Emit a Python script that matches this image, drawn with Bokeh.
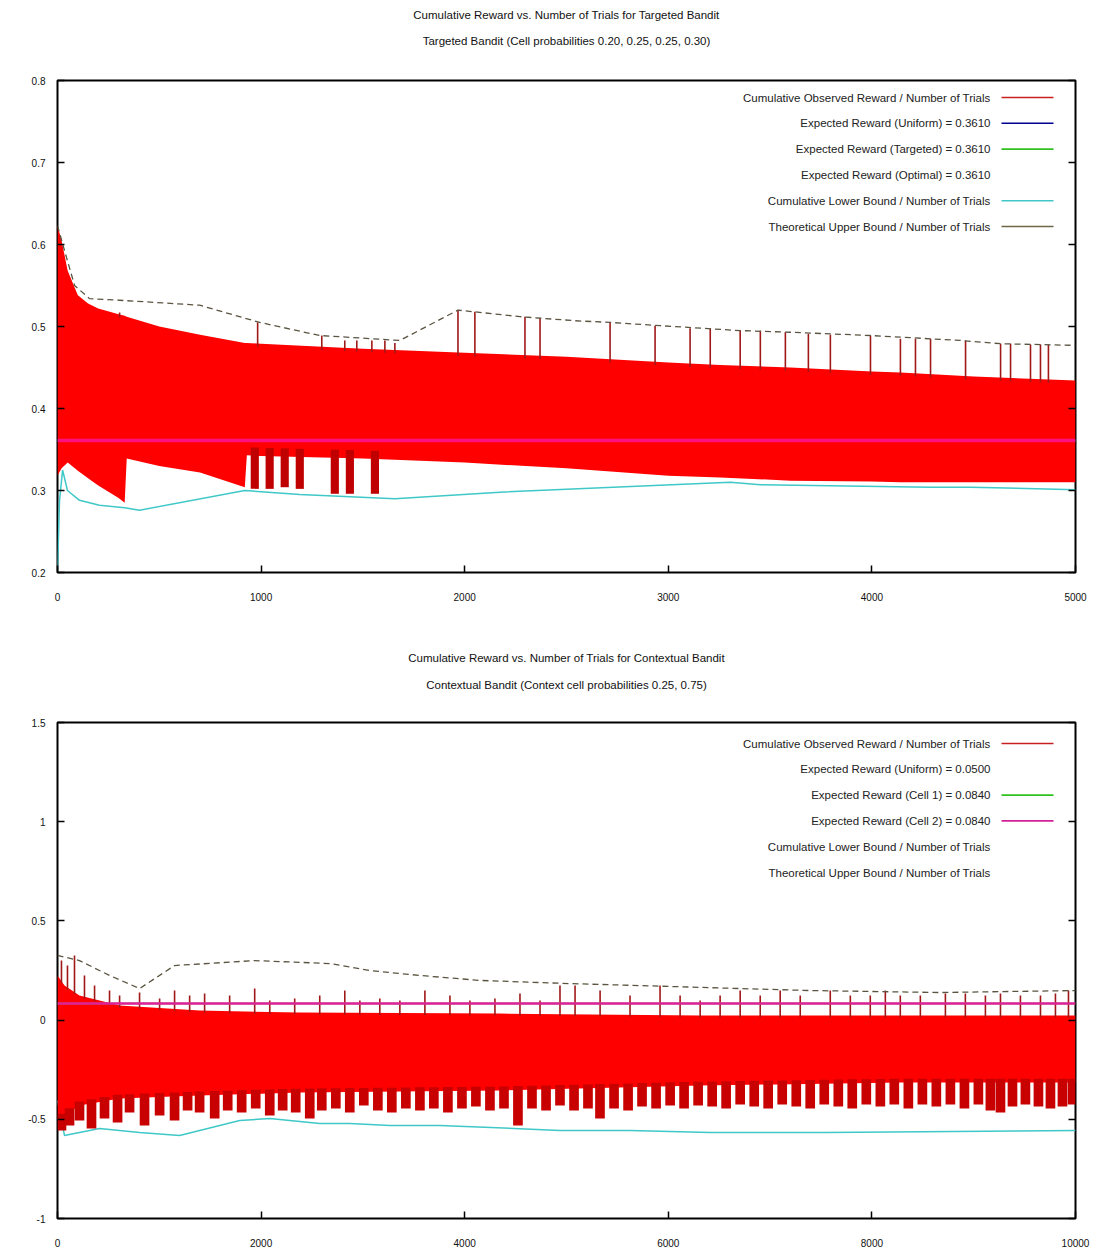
import numpy as np
from bokeh.plotting import figure
from bokeh.layouts import column
from bokeh.models import Range1d, LinearAxis, FixedTicker, Label, Title
from bokeh.embed import file_html
from bokeh.resources import INLINE

FONT = "Liberation Sans"

# ---------------- top chart data ----------------
top_title1 = "Cumulative Reward vs. Number of Trials for Targeted Bandit"
top_title2 = "Targeted Bandit (Cell probabilities 0.20, 0.25, 0.25, 0.30)"
top_x_ticks = [0, 1000, 2000, 3000, 4000, 5000]
top_y_ticks = [0.2, 0.3, 0.4, 0.5, 0.6, 0.7, 0.8]
top_y_labels = ["0.2", "0.3", "0.4", "0.5", "0.6", "0.7", "0.8"]

top_env_x = [0, 20, 50, 100, 150, 200, 300, 330, 340, 500, 700, 920, 930, 1000,
             1500, 2000, 2500, 3000, 3255, 3600, 4000, 4140, 4500, 5000]
top_env_upper = [0.623, 0.605, 0.568, 0.538, 0.528, 0.522, 0.515, 0.513, 0.512, 0.500,
                 0.490, 0.480, 0.480, 0.479, 0.473, 0.468, 0.463, 0.456, 0.453, 0.450,
                 0.445, 0.444, 0.439, 0.434]
top_env_lower = [0.318, 0.327, 0.334, 0.324, 0.315, 0.306, 0.291, 0.285, 0.339, 0.330,
                 0.322, 0.304, 0.343, 0.342, 0.339, 0.334, 0.327, 0.318, 0.316, 0.312,
                 0.311, 0.310, 0.310, 0.310]
top_spike_x = [305, 983, 1298, 1411, 1470, 1544, 1608, 1657, 1967, 2050,
               2296, 2370, 2714, 2935, 3107, 3206, 3353, 3452, 3575, 3688,
               3796, 3993, 4140, 4214, 4288, 4460, 4632, 4681, 4779, 4828, 4867]
top_spike_top = [0.517, 0.505, 0.489, 0.483, 0.483, 0.483, 0.483, 0.480, 0.520, 0.518,
                 0.512, 0.510, 0.505, 0.501, 0.498, 0.498, 0.495, 0.495, 0.493, 0.491,
                 0.490, 0.489, 0.485, 0.485, 0.485, 0.483, 0.479, 0.479, 0.478, 0.478, 0.478]
top_dip_x = [969, 1042, 1116, 1190, 1362, 1436, 1559]
top_dip_bottom = [0.302, 0.302, 0.304, 0.302, 0.296, 0.296, 0.296]
top_upper_x = [0, 34, 84, 157, 305, 698, 993, 1288, 1682, 1967, 2272, 2543, 2714,
               2960, 3353, 3599, 3993, 4435, 4632, 5000]
top_upper_v = [0.623, 0.593, 0.550, 0.534, 0.532, 0.526, 0.505, 0.489, 0.483, 0.520,
               0.512, 0.507, 0.505, 0.501, 0.495, 0.493, 0.489, 0.483, 0.479, 0.477]
top_lower_x = [0, 10, 25, 49, 108, 206, 330, 403, 920, 1190, 1657, 2173, 3304, 3452,
               4288, 4484, 5000]
top_lower_v = [0.202, 0.288, 0.325, 0.300, 0.288, 0.282, 0.279, 0.276, 0.300, 0.295,
               0.290, 0.298, 0.310, 0.307, 0.304, 0.304, 0.301]
top_expected = 0.361
top_legend = [
    ("Cumulative Observed Reward / Number of Trials", "#c82020"),
    ("Expected Reward (Uniform) = 0.3610", "#000090"),
    ("Expected Reward (Targeted) = 0.3610", "#30c020"),
    ("Expected Reward (Optimal) = 0.3610", None),
    ("Cumulative Lower Bound / Number of Trials", "#40c8c8"),
    ("Theoretical Upper Bound / Number of Trials", "#6e6848"),
]

# ---------------- bottom chart data ----------------
bot_title1 = "Cumulative Reward vs. Number of Trials for Contextual Bandit"
bot_title2 = "Contextual Bandit (Context cell probabilities 0.25, 0.75)"
bot_x_ticks = [0, 2000, 4000, 6000, 8000, 10000]
bot_y_ticks = [-1, -0.5, 0, 0.5, 1, 1.5]
bot_y_labels = ["-1", "-0.5", "0", "0.5", "1", "1.5"]

bot_env_x = [0, 69, 216, 610, 1396, 2380, 4346, 6313, 8279, 10000]
bot_env_upper = [0.225, 0.174, 0.124, 0.074, 0.048, 0.038, 0.033, 0.023, 0.023, 0.023]
bot_env_lower = [-0.506, -0.481, -0.430, -0.395, -0.380, -0.365, -0.355, -0.330, -0.315, -0.315]
bot_spike_x = [39, 98, 167, 265, 364, 511, 610, 806, 1003, 1150,
               1298, 1445, 1691, 1937, 2085, 2330, 2576, 2822, 2970, 3166,
               3363, 3609, 3855, 4051, 4297, 4543, 4740, 4936, 5084, 5330,
               5624, 5919, 6116, 6313, 6509, 6706, 6903, 7099, 7296, 7591,
               7788, 7984, 8132, 8279, 8476, 8722, 8918, 9115, 9263, 9459,
               9656, 9803, 9931]
bot_spike_top = [0.300, 0.275, 0.326, 0.225, 0.174, 0.149, 0.124, 0.139, 0.109, 0.149,
                 0.124, 0.134, 0.124, 0.159, 0.099, 0.109, 0.124, 0.149, 0.099, 0.109,
                 0.099, 0.149, 0.124, 0.099, 0.109, 0.134, 0.099, 0.174, 0.174, 0.149,
                 0.124, 0.174, 0.124, 0.099, 0.124, 0.149, 0.124, 0.149, 0.124, 0.149,
                 0.124, 0.124, 0.149, 0.124, 0.124, 0.134, 0.134, 0.124, 0.134, 0.124,
                 0.124, 0.134, 0.149]
bot_dip_x = [39, 118, 216, 334, 462, 590, 708, 855, 1003, 1150,
             1278, 1396, 1544, 1672, 1809, 1947, 2085, 2212, 2340, 2478,
             2596, 2734, 2871, 3009, 3147, 3284, 3422, 3560, 3697, 3835,
             3973, 4110, 4248, 4386, 4523, 4661, 4799, 4936, 5074, 5211,
             5329, 5467, 5605, 5742, 5880, 6018, 6155, 6293, 6431, 6568,
             6706, 6844, 6981, 7119, 7257, 7394, 7532, 7670, 7807, 7945,
             8083, 8220, 8358, 8496, 8633, 8771, 8909, 9046, 9164, 9263,
             9381, 9508, 9636, 9754, 9872, 9971]
bot_dip_bottom = [-0.556, -0.531, -0.506, -0.546, -0.496, -0.516, -0.466, -0.531, -0.481, -0.506,
                  -0.456, -0.466, -0.496, -0.456, -0.466, -0.446, -0.481, -0.456, -0.466, -0.496,
                  -0.456, -0.446, -0.466, -0.430, -0.456, -0.466, -0.446, -0.456, -0.446, -0.466,
                  -0.446, -0.435, -0.456, -0.446, -0.531, -0.446, -0.456, -0.430, -0.456, -0.446,
                  -0.496, -0.446, -0.456, -0.435, -0.446, -0.430, -0.446, -0.430, -0.435, -0.446,
                  -0.425, -0.435, -0.446, -0.425, -0.435, -0.446, -0.425, -0.435, -0.446, -0.425,
                  -0.435, -0.425, -0.446, -0.425, -0.435, -0.425, -0.446, -0.425, -0.456, -0.466,
                  -0.435, -0.425, -0.435, -0.446, -0.435, -0.425]
bot_upper_x = [0, 216, 511, 806, 1150, 1937, 2675, 3068, 3559, 4149, 5034, 5722, 6706,
               7394, 8673, 10000]
bot_upper_v = [0.326, 0.300, 0.225, 0.159, 0.275, 0.300, 0.285, 0.250, 0.225, 0.200,
               0.184, 0.174, 0.159, 0.149, 0.139, 0.149]
bot_lower_x = [0, 69, 413, 806, 1200, 1790, 2085, 2576, 2871, 3265, 3756, 4936, 5624,
               6411, 7542, 10000]
bot_lower_v = [-0.405, -0.582, -0.546, -0.567, -0.582, -0.506, -0.496, -0.521, -0.521,
               -0.531, -0.531, -0.556, -0.556, -0.567, -0.567, -0.556]
bot_expected = 0.084
bot_legend = [
    ("Cumulative Observed Reward / Number of Trials", "#c82020"),
    ("Expected Reward (Uniform) = 0.0500", None),
    ("Expected Reward (Cell 1) = 0.0840", "#30c020"),
    ("Expected Reward (Cell 2) = 0.0840", "#d0209a"),
    ("Cumulative Lower Bound / Number of Trials", None),
    ("Theoretical Upper Bound / Number of Trials", None),
]

W = 1092
FW = 1018  # frame width in px


def make_fig(height, btop, bbot, xr, yr, xticks, yticks, ylabels, t1, t2, spacer, gap):
    p = figure(width=W, height=height, output_backend="svg", toolbar_location=None,
               x_range=Range1d(*xr), y_range=Range1d(*yr),
               min_border_left=57, min_border_right=17,
               min_border_top=btop, min_border_bottom=bbot,
               background_fill_color="white", border_fill_color="white",
               outline_line_color="black", outline_line_width=2)
    p.grid.visible = False
    p.xaxis.ticker = FixedTicker(ticks=xticks)
    p.yaxis.ticker = FixedTicker(ticks=yticks)
    p.yaxis.major_label_overrides = {t: l for t, l in zip(yticks, ylabels)}
    for ax in p.xaxis + p.yaxis:
        ax.axis_line_color = None
        ax.major_tick_in = 7
        ax.major_tick_out = 0
        ax.minor_tick_line_color = None
        ax.major_tick_line_color = "black"
        ax.major_tick_line_width = 1.5
        ax.major_label_text_font = FONT
        ax.major_label_text_font_size = "10px"
        ax.major_label_text_color = "#111111"
    p.xaxis.major_label_standoff = 20
    p.yaxis.major_label_standoff = 12
    rax = LinearAxis(ticker=FixedTicker(ticks=yticks), axis_line_color=None,
                     major_tick_in=7, major_tick_out=0, minor_tick_line_color=None,
                     major_tick_line_width=1.5,
                     major_label_overrides={t: "" for t in yticks})
    p.add_layout(rax, "right")
    p.add_layout(Title(text=" ", align="center", text_font=FONT, text_font_size="1px",
                       standoff=spacer), "above")
    p.add_layout(Title(text=t2, align="center", text_font=FONT, text_font_size="11.5px",
                       text_font_style="normal", text_color="#111111", standoff=gap), "above")
    p.add_layout(Title(text=t1, align="center", text_font=FONT, text_font_size="11.5px",
                       text_font_style="normal", text_color="#111111", standoff=4), "above")
    return p


def add_legend(p, xr, yr, fh, entries, top_off):
    xspan = xr[1] - xr[0]
    yspan = yr[1] - yr[0]
    xt = xr[0] + 933 / FW * xspan
    xs0 = xr[0] + 944 / FW * xspan
    xs1 = xr[0] + 996 / FW * xspan
    for i, (txt, color) in enumerate(entries):
        yv = yr[1] - (top_off + i * 25.8) / fh * yspan
        p.add_layout(Label(x=xt, y=yv, text=txt, text_align="right", text_baseline="middle",
                           text_font=FONT, text_font_size="11.5px", text_color="#222222"))
        if color:
            p.segment(x0=[xs0], y0=[yv], x1=[xs1], y1=[yv], line_color=color, line_width=1.6)


# ---------------- top figure ----------------
txr, tyr, tfh = (0, 5000), (0.2, 0.8), 492
p1 = make_fig(612, 80, 40, txr, tyr, top_x_ticks, top_y_ticks, top_y_labels,
              top_title1, top_title2, 21, 20)
p1.varea(x=top_env_x, y1=top_env_lower, y2=top_env_upper, fill_color="#ff0000")
p1.vbar(x=top_dip_x, width=40, top=list(np.interp(top_dip_x, top_env_x, top_env_lower) + 0.01),
        bottom=top_dip_bottom, fill_color="#c00000", line_color=None)
sb = list(np.interp(top_spike_x, top_env_x, top_env_upper) - 0.004)
p1.segment(x0=top_spike_x, y0=sb, x1=top_spike_x, y1=top_spike_top, line_color="#a01818", line_width=1.6)
p1.line([0, 5000], [top_expected] * 2, line_color="#000090", line_width=1.5)
p1.line([0, 5000], [top_expected] * 2, line_color="#30c020", line_width=1.5)
p1.line([0, 5000], [top_expected] * 2, line_color="#ff1080", line_width=3.5)
p1.line(top_lower_x, top_lower_v, line_color="#40c8c8", line_width=1.5)
p1.line(top_upper_x, top_upper_v, line_color="#5a5440", line_width=1.3, line_dash="6 4")
add_legend(p1, txr, tyr, tfh, top_legend, 17)

# ---------------- bottom figure ----------------
bxr, byr, bfh = (0, 10000), (-1, 1.5), 496
p2 = make_fig(641, 110, 35, bxr, byr, bot_x_ticks, bot_y_ticks, bot_y_labels,
              bot_title1, bot_title2, 18, 22)
p2.line(bot_lower_x, bot_lower_v, line_color="#40c8c8", line_width=1.5)
p2.varea(x=bot_env_x, y1=bot_env_lower, y2=bot_env_upper, fill_color="#ff0000")
p2.vbar(x=bot_dip_x, width=95, top=list(np.interp(bot_dip_x, bot_env_x, bot_env_lower) + 0.02),
        bottom=bot_dip_bottom, fill_color="#c80000", line_color=None)
sb2 = list(np.interp(bot_spike_x, bot_env_x, bot_env_upper) - 0.01)
p2.segment(x0=bot_spike_x, y0=sb2, x1=bot_spike_x, y1=bot_spike_top, line_color="#a01818", line_width=1.6)
p2.line([0, 10000], [bot_expected] * 2, line_color="#30c020", line_width=1.5)
p2.line([0, 10000], [bot_expected] * 2, line_color="#e0209a", line_width=2.5)
p2.line(bot_upper_x, bot_upper_v, line_color="#5a5440", line_width=1.3, line_dash="6 4")
add_legend(p2, bxr, byr, bfh, bot_legend, 21)

layout = column(p1, p2, spacing=0)
open("out.html", "w").write(file_html(layout, INLINE))
